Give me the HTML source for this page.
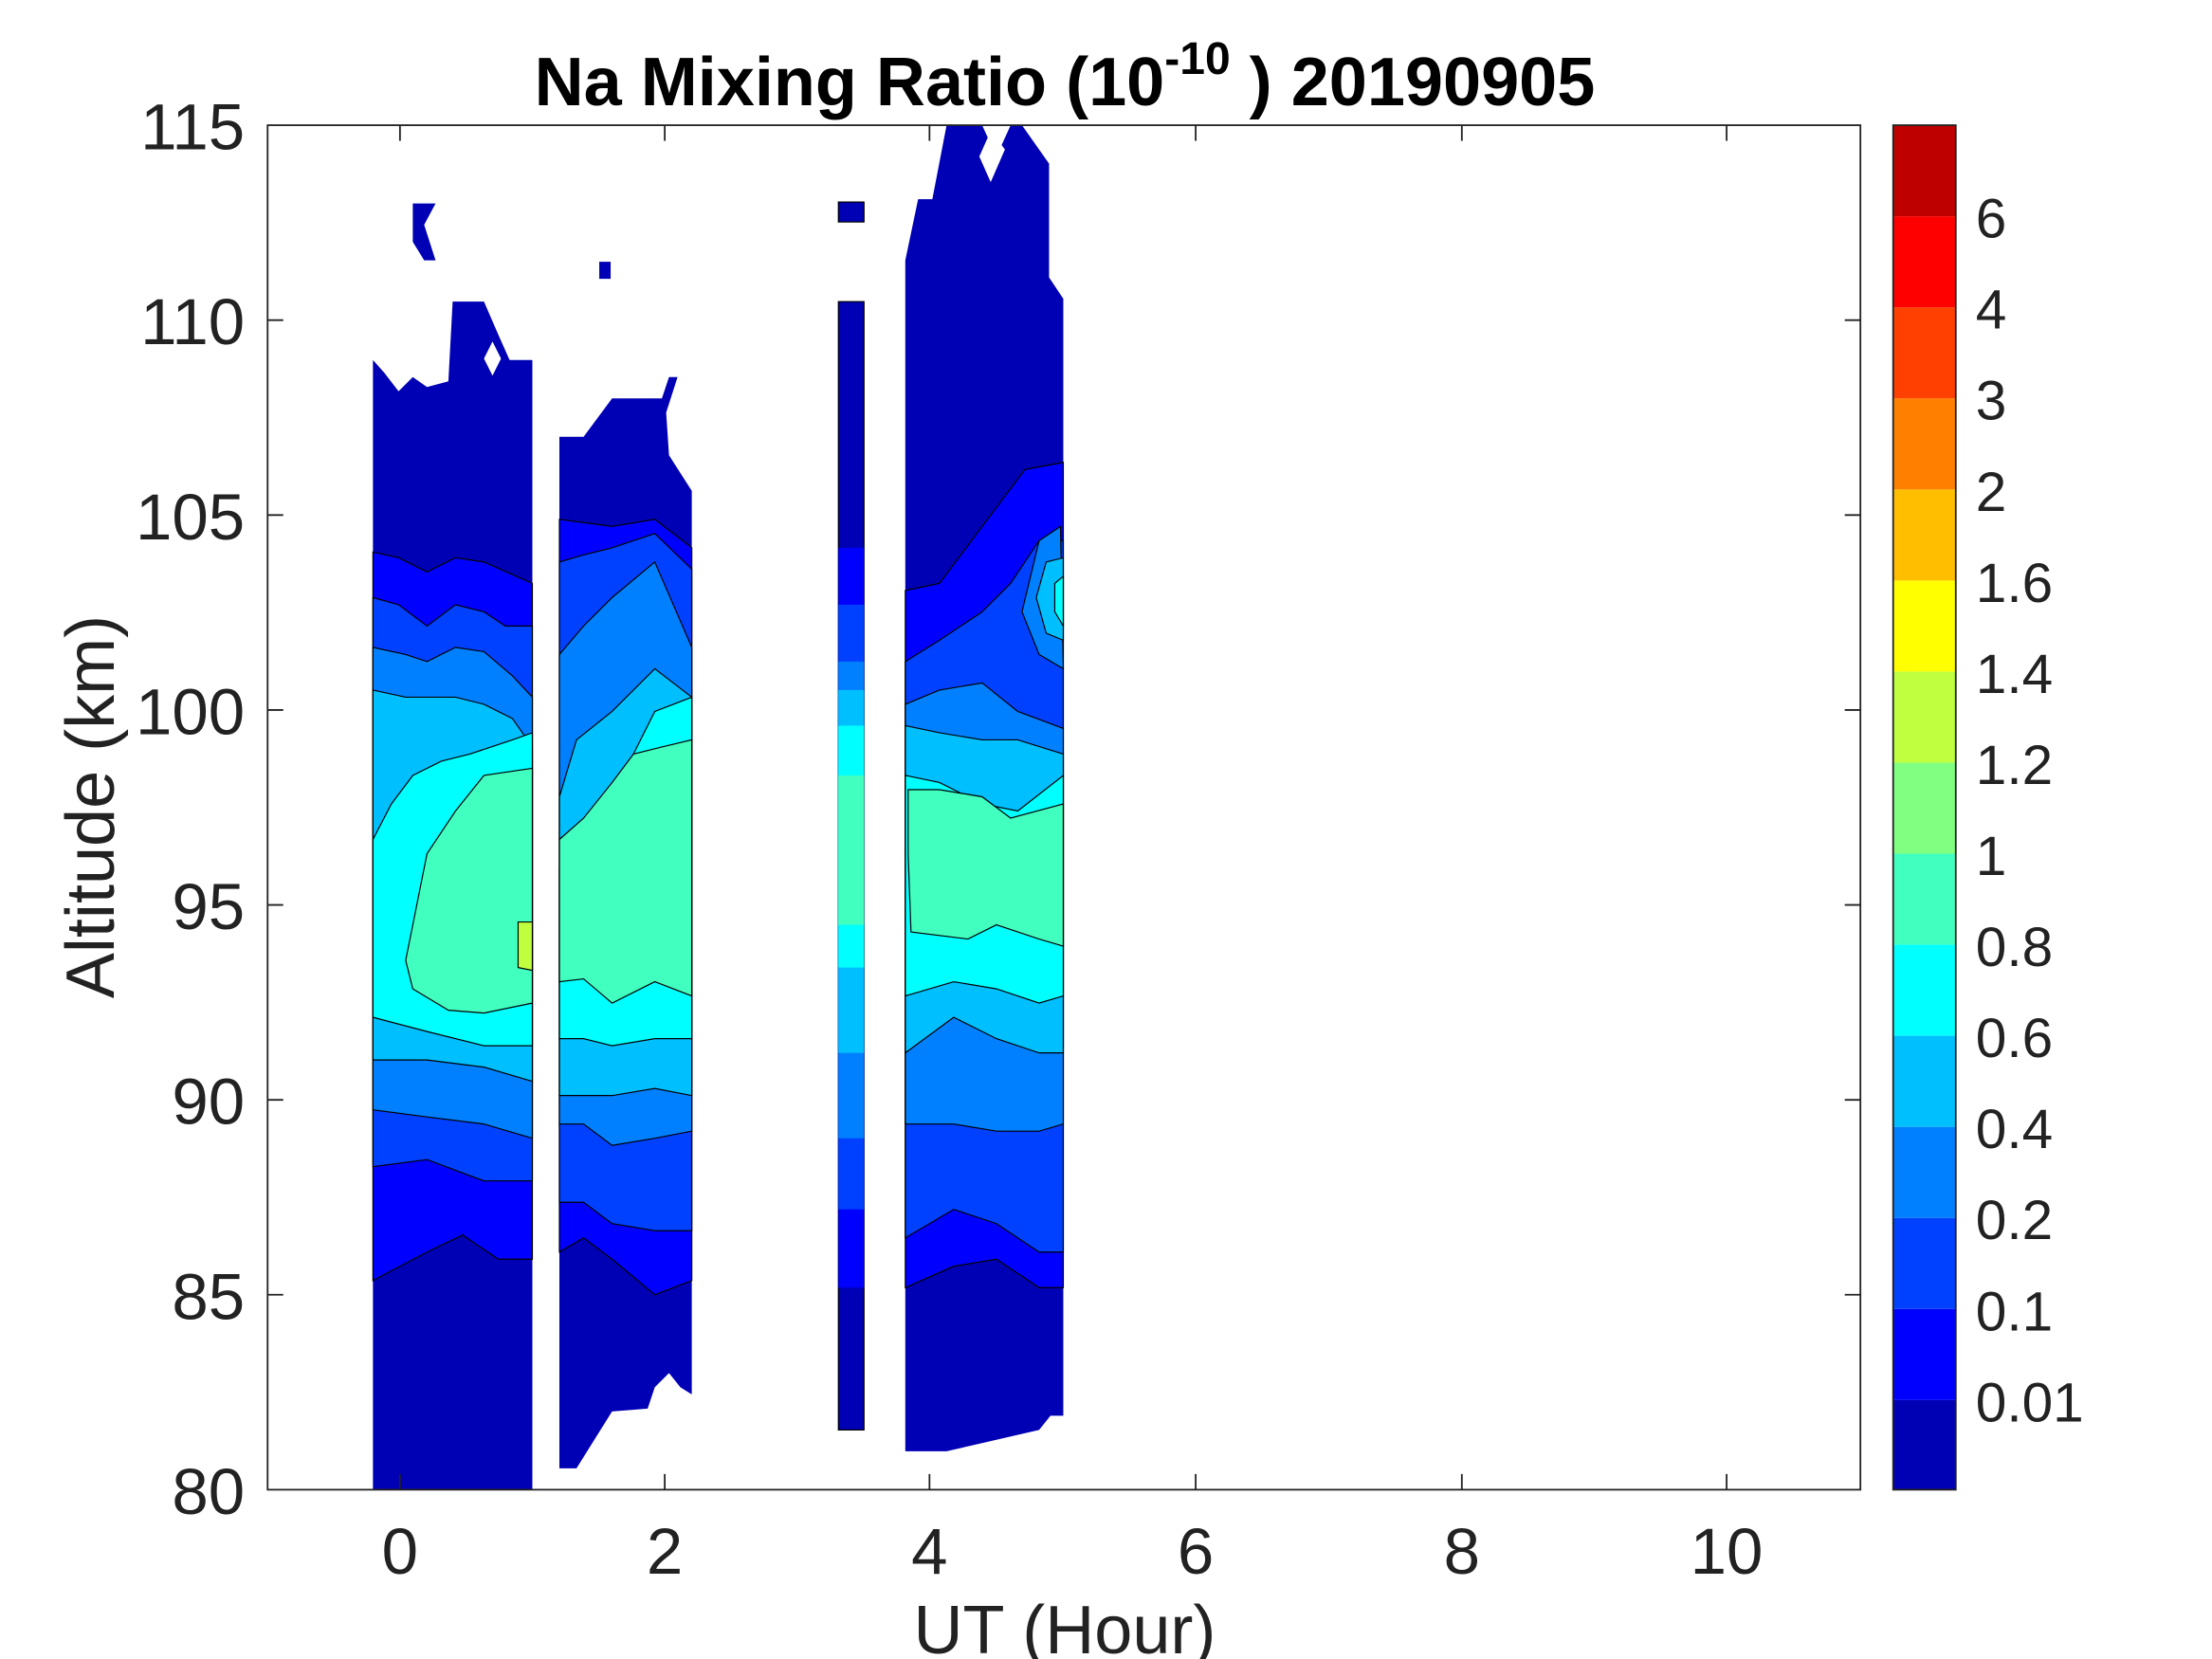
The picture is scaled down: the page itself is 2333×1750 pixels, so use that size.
<!DOCTYPE html>
<html><head><meta charset="utf-8"><style>html,body{margin:0;padding:0;background:#fff}svg{display:block}</style></head>
<body>
<svg width="2333" height="1750" viewBox="0 0 1554 1166" preserveAspectRatio="none" xmlns="http://www.w3.org/2000/svg" font-family="Liberation Sans, sans-serif">
<rect width="1554" height="1166" fill="#fff"/>
<g stroke="#000" stroke-width="0.8">
<polygon fill="#0000b4" stroke="none" points="262,253 270,262 280,275 290,265 300,272 315,268 318,212 340,212 350,235 358,253 374,253 374,1047 262,1047"/>
<polygon fill="#0000b4" stroke="none" points="290,143 306,143 298,158 306,183 298,183 290,170"/>
<polygon fill="#fff" stroke="none" points="346,240 352,252 346,264 340,252"/>
<polygon fill="#0000ff" points="262,388 280,392 300,402 320,392 340,395 374,410 374,885 350,885 325,868 300,880 262,900"/>
<polygon fill="#0040ff" points="262,420 280,425 300,440 320,425 340,430 355,440 374,440 374,830 340,830 300,815 262,820"/>
<polygon fill="#0080ff" points="262,455 285,460 300,465 320,455 340,458 360,475 374,490 374,800 340,790 300,785 262,780"/>
<polygon fill="#00bfff" points="262,485 285,490 300,490 320,490 340,495 360,505 374,525 374,760 340,750 300,745 262,745"/>
<polygon fill="#00ffff" points="262,590 275,565 290,545 310,535 330,530 360,520 374,515 374,735 340,735 300,725 262,715"/>
<polygon fill="#40ffbf" points="290,650 300,600 320,570 340,545 374,540 374,705 340,712 315,710 290,695 285,675"/>
<polygon fill="#bfff40" points="364,648 374,648 374,682 364,680"/>
<polygon fill="#0000b4" stroke="none" points="393,307 410,307 430,280 465,280 470,265 476,265 468,290 470,320 486,345 486,980 478,975 470,965 460,975 455,990 430,992 405,1032 393,1032"/>
<polygon fill="#0000b4" stroke="none" points="421,184 429,184 429,196 421,196"/>
<polygon fill="#0000ff" points="393,365 430,370 460,365 486,385 486,900 460,910 430,885 410,870 393,880"/>
<polygon fill="#0040ff" points="393,395 410,390 430,385 460,375 486,400 486,865 460,865 430,860 410,845 393,845"/>
<polygon fill="#0080ff" points="393,460 410,440 430,420 460,395 486,455 486,795 460,800 430,805 410,790 393,790"/>
<polygon fill="#00bfff" points="393,560 405,520 430,500 460,470 486,490 486,770 460,765 430,770 410,770 393,770"/>
<polygon fill="#00ffff" points="393,610 410,600 430,560 460,500 486,490 486,730 460,730 430,735 410,730 393,730"/>
<polygon fill="#40ffbf" points="393,590 410,575 430,550 445,530 465,525 486,520 486,700 460,690 430,705 410,688 393,690"/>
<rect fill="#0000b4" x="589" y="212" width="18" height="793"/>
<rect fill="#0000b4" x="589" y="142" width="18" height="14"/>
<rect fill="#0000ff" x="589" y="385" width="18" height="520" stroke="none"/>
<rect fill="#0040ff" x="589" y="425" width="18" height="425" stroke="none"/>
<rect fill="#0080ff" x="589" y="465" width="18" height="335" stroke="none"/>
<rect fill="#00bfff" x="589" y="485" width="18" height="255" stroke="none"/>
<rect fill="#00ffff" x="589" y="510" width="18" height="170" stroke="none"/>
<rect fill="#40ffbf" x="589" y="545" width="18" height="105" stroke="none"/>
<polygon fill="#0000b4" stroke="none" points="636,183 645,140 655,140 665,88 690,88 700,110 710,88 718,88 737,115 737,195 747,210 747,995 738,995 730,1005 665,1020 636,1020"/>
<polygon fill="#fff" stroke="none" points="696,92 706,105 696,128 688,110"/>
<polygon fill="#0000ff" points="636,415 660,410 690,370 720,330 747,325 747,905 730,905 700,885 670,890 636,905"/>
<polygon fill="#0040ff" points="636,465 660,450 690,430 710,410 730,380 747,380 747,880 730,880 700,860 670,850 636,870"/>
<polygon fill="#0080ff" points="636,495 660,485 690,480 715,500 747,512 747,790 730,795 700,795 670,790 636,790"/>
<polygon fill="#00bfff" points="636,510 660,515 690,520 715,520 747,530 747,740 730,740 700,730 670,715 636,740"/>
<polygon fill="#00ffff" points="636,545 660,550 690,565 715,570 747,545 747,700 730,705 700,695 670,690 636,700"/>
<polygon fill="#40ffbf" points="638,555 660,555 690,560 710,575 747,565 747,665 730,660 700,650 680,660 640,655 638,600"/>
<polygon fill="#0080ff" points="730,380 745,370 747,470 730,460 718,430"/>
<polygon fill="#00bfff" points="735,395 747,392 747,450 735,445 728,420"/>
<polygon fill="#00ffff" points="741,410 747,405 747,440 741,430"/>
</g>
<rect x="188" y="88" width="1119" height="959" fill="none" stroke="#222" stroke-width="1.2"/>
<g stroke="#222" stroke-width="1.2">
<line x1="281" y1="1047" x2="281" y2="1036"/><line x1="467" y1="1047" x2="467" y2="1036"/><line x1="653" y1="1047" x2="653" y2="1036"/><line x1="840" y1="1047" x2="840" y2="1036"/><line x1="1027" y1="1047" x2="1027" y2="1036"/><line x1="1213" y1="1047" x2="1213" y2="1036"/>
<line x1="281" y1="88" x2="281" y2="99"/><line x1="467" y1="88" x2="467" y2="99"/><line x1="653" y1="88" x2="653" y2="99"/><line x1="840" y1="88" x2="840" y2="99"/><line x1="1027" y1="88" x2="1027" y2="99"/><line x1="1213" y1="88" x2="1213" y2="99"/>
<line x1="188" y1="225" x2="199" y2="225"/><line x1="188" y1="362" x2="199" y2="362"/><line x1="188" y1="499" x2="199" y2="499"/><line x1="188" y1="636" x2="199" y2="636"/><line x1="188" y1="773" x2="199" y2="773"/><line x1="188" y1="910" x2="199" y2="910"/>
<line x1="1307" y1="225" x2="1296" y2="225"/><line x1="1307" y1="362" x2="1296" y2="362"/><line x1="1307" y1="499" x2="1296" y2="499"/><line x1="1307" y1="636" x2="1296" y2="636"/><line x1="1307" y1="773" x2="1296" y2="773"/><line x1="1307" y1="910" x2="1296" y2="910"/>
</g>
<g font-size="46" fill="#222" text-anchor="end">
<text x="172" y="105">115</text><text x="172" y="242">110</text><text x="172" y="379">105</text><text x="172" y="516">100</text><text x="172" y="653">95</text><text x="172" y="790">90</text><text x="172" y="927">85</text><text x="172" y="1064">80</text>
</g>
<g font-size="46" fill="#222" text-anchor="middle">
<text x="281" y="1106">0</text><text x="467" y="1106">2</text><text x="653" y="1106">4</text><text x="840" y="1106">6</text><text x="1027" y="1106">8</text><text x="1213" y="1106">10</text>
<text x="748" y="1162" font-size="48">UT (Hour)</text>
<text transform="translate(80,567) rotate(-90)" font-size="48">Altitude (km)</text>
</g>
<text x="748" y="74" font-size="48" font-weight="bold" text-anchor="middle" fill="#000">Na Mixing Ratio (10<tspan font-size="32" dy="-22">-10</tspan><tspan dy="22"> ) 20190905</tspan></text>
<g stroke="none">
<rect x="1330" y="984" width="44" height="63" fill="#0000b4"/>
<rect x="1330" y="920" width="44" height="64" fill="#0000ff"/>
<rect x="1330" y="856" width="44" height="64" fill="#0040ff"/>
<rect x="1330" y="792" width="44" height="64" fill="#0080ff"/>
<rect x="1330" y="728" width="44" height="64" fill="#00bfff"/>
<rect x="1330" y="664" width="44" height="64" fill="#00ffff"/>
<rect x="1330" y="600" width="44" height="64" fill="#40ffbf"/>
<rect x="1330" y="536" width="44" height="64" fill="#80ff80"/>
<rect x="1330" y="472" width="44" height="64" fill="#bfff40"/>
<rect x="1330" y="408" width="44" height="64" fill="#ffff00"/>
<rect x="1330" y="344" width="44" height="64" fill="#ffbf00"/>
<rect x="1330" y="280" width="44" height="64" fill="#ff8000"/>
<rect x="1330" y="216" width="44" height="64" fill="#ff4000"/>
<rect x="1330" y="152" width="44" height="64" fill="#ff0000"/>
<rect x="1330" y="88" width="44" height="64" fill="#bf0000"/>
</g>
<rect x="1330" y="88" width="44" height="959" fill="none" stroke="#222" stroke-width="1.2"/>
<g font-size="39" fill="#222">
<text x="1388" y="167">6</text><text x="1388" y="231">4</text><text x="1388" y="295">3</text><text x="1388" y="359">2</text><text x="1388" y="423">1.6</text><text x="1388" y="487">1.4</text><text x="1388" y="551">1.2</text><text x="1388" y="615">1</text><text x="1388" y="679">0.8</text><text x="1388" y="743">0.6</text><text x="1388" y="807">0.4</text><text x="1388" y="871">0.2</text><text x="1388" y="935">0.1</text><text x="1388" y="999">0.01</text>
</g>
</svg>
</body></html>
